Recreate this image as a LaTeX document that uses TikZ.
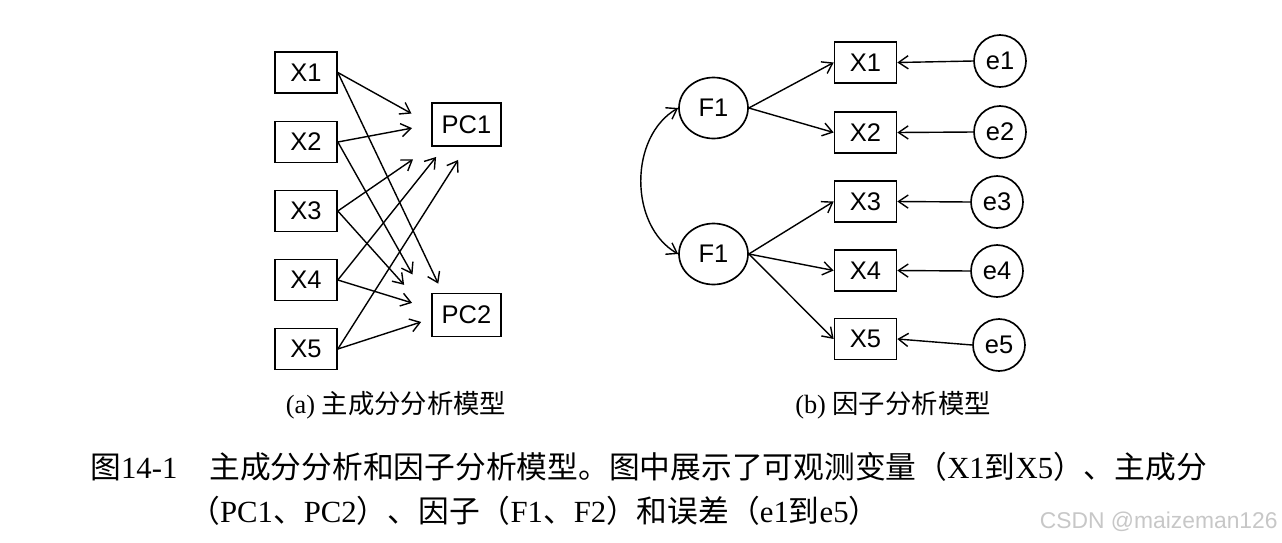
\documentclass[tikz,border=0pt]{standalone}
\usepackage{fontspec}
\setmainfont{Liberation Serif}
\newfontfamily\cjkfont{Noto Sans CJK SC}
\newfontfamily\labelfont{Liberation Sans}
\usetikzlibrary{arrows.meta,shapes.geometric}

\begin{document}
\begin{tikzpicture}[x=0.02cm, y=-0.02cm,
  box/.style={draw, line width=0.95pt, inner sep=0pt, font=\labelfont\fontsize{14.5}{16}\selectfont},
  obs/.style={box, minimum width=1.24cm, minimum height=0.82cm},
  pc/.style={box, minimum width=1.38cm, minimum height=0.86cm},
  latent/.style={box, ellipse, minimum width=1.38cm, minimum height=1.22cm},
  err/.style={box, circle, minimum size=1.04cm},
  arr/.style={line width=0.8pt, -{Straight Barb[length=5.5pt,width=7.5pt]}},
  captext/.style={inner sep=0pt, anchor=base west, font=\fontsize{17.5}{20}\selectfont},
  subcap/.style={inner sep=0pt, anchor=base, font=\fontsize{15}{18}\selectfont}]

  \useasboundingbox (0,0) rectangle (1282,542);

  % (a) observed variables and the two principal components
  \node[obs] (X1) at (306,72.5) {X1};
  \node[obs] (X2) at (306,142)  {X2};
  \node[obs] (X3) at (306,211)  {X3};
  \node[obs] (X4) at (306,280)  {X4};
  \node[obs] (X5) at (306,349)  {X5};
  \node[pc] (PC1) at (466.5,124.5) {PC1};
  \node[pc] (PC2) at (466.5,315)   {PC2};

  % every X feeds both components (arrows stop short of the boxes)
  \draw[arr, shorten >=0.45cm] (X1.east) -- (PC1.west);
  \draw[arr, shorten >=0.39cm] (X2.east) -- (PC1.west);
  \draw[arr, shorten >=0.44cm] (X3.east) -- (PC1.south west);
  \draw[arr, shorten >=0.26cm] (X4.east) -- (PC1.225);
  \draw[arr, shorten >=0.31cm] (X5.east) -- (PC1.south);
  \draw[arr, shorten >=0.20cm] (X1.east) -- (PC2.137);
  \draw[arr, shorten >=0.76cm] (X2.east) -- (PC2.168);
  \draw[arr, shorten >=0.81cm] (X3.east) -- (PC2.west);
  \draw[arr, shorten >=0.40cm] (X4.east) -- (PC2.170);
  \draw[arr, shorten >=0.21cm] (X5.east) -- (PC2.186);

  % (b) factors, observed variables, errors
  \node[latent] (Fa) at (713.5,108) {F1};
  \node[latent] (Fb) at (713.5,254) {F1};
  \node[obs] (Y1) at (865.5,62.5)  {X1};
  \node[obs] (Y2) at (865.5,132.5) {X2};
  \node[obs] (Y3) at (865.5,201.5) {X3};
  \node[obs] (Y4) at (865.5,270.5) {X4};
  \node[obs] (Y5) at (865.5,339)   {X5};
  \node[err] (e1) at (1000,61)  {e1};
  \node[err] (e2) at (1000,132) {e2};
  \node[err] (e3) at (997,202)  {e3};
  \node[err] (e4) at (997,271)  {e4};
  \node[err] (e5) at (999,345)  {e5};

  \draw[arr] (Fa.east) -- (Y1.west);
  \draw[arr] (Fa.east) -- (Y2.west);
  \draw[arr] (Fb.east) -- (Y3.west);
  \draw[arr] (Fb.east) -- (Y4.west);
  \draw[arr] (Fb.east) -- (Y5.west);
  \foreach \i in {1,...,5}
    \draw[arr] (e\i.west) -- (Y\i.east);

  % correlation between the factors
  \draw[line width=0.8pt, {Straight Barb[length=5.5pt,width=7.5pt]}-{Straight Barb[length=5.5pt,width=7.5pt]}]
    (Fa.west) to[out=210, in=150] (Fb.west);

  % sub-captions
  \node[subcap] (capa) at (396,413) {(a) {\cjkfont 主成分分析模型}};
  \node[subcap] (capb) at (893,413) {(b) {\cjkfont 因子分析模型}};

  % figure caption
  \node[captext] (fignum) at (90,478) {{\cjkfont 图}14-1};
  \node[captext] (line1) at (209,478) {{\cjkfont 主成分分析和因子分析模型。图中展示了可观测变量（}X1{\cjkfont 到}X5{\cjkfont ）、主成分}};
  \node[captext] (line2) at (189,522) {{\cjkfont （}PC1{\cjkfont 、}PC2{\cjkfont ）、因子（}F1{\cjkfont 、}F2{\cjkfont ）和误差（}e1{\cjkfont 到}e5{\cjkfont ）}};

  % watermark
  \node[inner sep=0pt, anchor=base east, text=black!22, font=\labelfont\fontsize{13}{15}\selectfont] (mark) at (1278,528) {CSDN @maizeman126};
\end{tikzpicture}
\end{document}
